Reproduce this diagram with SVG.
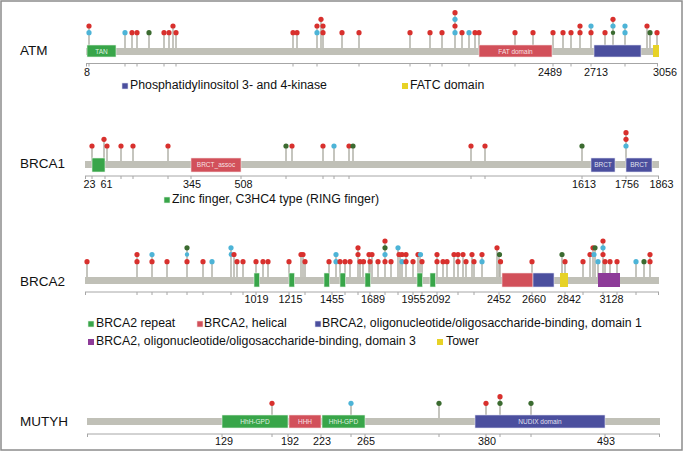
<svg xmlns="http://www.w3.org/2000/svg" width="685" height="452" viewBox="0 0 685 452">
<style>
.bg{fill:#ffffff}
.frame{fill:none;stroke:#8c8c8c;stroke-width:1.5}
.bar{fill:#c0c0b7}
.stem{fill:none;stroke:#b3b3a9;stroke-width:1.5}
.ax{fill:none;stroke:#a6a6a6;stroke-width:1}
.r{fill:#d8302d}
.c{fill:#4db4d7}
.g{fill:#3b6b30}
.dg{fill:#38a549;stroke:#e8f3e8;stroke-width:0.6}
.dr{fill:#d2505a;stroke:#f3e0e0;stroke-width:0.6}
.db{fill:#4b4f9e;stroke:#e0e0f0;stroke-width:0.6}
.dy{fill:#e7d226}
.dp{fill:#8d3b98}
.gene{font-family:"Liberation Sans",Arial,sans-serif;font-size:13.5px;fill:#111}
.num{font-family:"Liberation Sans",Arial,sans-serif;font-size:10.8px;fill:#111;text-anchor:middle}
.leg{font-family:"Liberation Sans",Arial,sans-serif;font-size:12.3px;fill:#111}
.dl{font-family:"Liberation Sans",Arial,sans-serif;font-size:6.5px;fill:#ffffff;fill-opacity:0.85;text-anchor:middle}
</style>
<rect class="bg" x="0" y="0" width="685" height="452"/>
<rect class="frame" x="1" y="1" width="681" height="449"/>

<g id="atm">
<text class="gene" x="20" y="55">ATM</text>
<path class="stem" d="M89 48V26 M125 48V32.7 M132 48V32.7 M137 48V32.7 M149 48V32.7 M164 48V32.7 M169 48V32.7 M173 48V26 M176 48V32.7 M293 48V32.7 M297 48V32.7 M317 48V26 M321 48V19.3 M323 48V26 M342 48V32.7 M359 48V32.7 M410 48V32.7 M430 48V32.7 M442 48V32.7 M455 48V12.7 M462 48V32.7 M469 48V32.7 M475 48V32.7 M479 48V32.7 M515 48V32.7 M533 48V32.7 M553 48V32.7 M563 48V32.7 M571 48V32.7 M580 48V26 M591 48V26 M605 48V32.7 M613 48V19.3 M625 48V26 M647 48V26 M650 48V32.7 M657 48V32.7"/>
<rect class="bar" x="86" y="48" width="572" height="7"/>
<rect class="dg" x="87" y="45" width="29" height="12"/>
<text class="dl" x="101.5" y="53.5">TAN</text>
<rect class="dr" x="479" y="45" width="73" height="12"/>
<text class="dl" x="515.5" y="53.5">FAT domain</text>
<rect class="db" x="594" y="45" width="47" height="12"/>
<rect class="dy" x="653" y="45" width="6" height="12"/>
<g>
<circle class="c" cx="89" cy="32.7" r="2.6"/><circle class="r" cx="89" cy="26" r="2.6"/>
<circle class="c" cx="125" cy="32.7" r="2.6"/>
<circle class="r" cx="132" cy="32.7" r="2.6"/>
<circle class="r" cx="137" cy="32.7" r="2.6"/>
<circle class="g" cx="149" cy="32.7" r="2.6"/>
<circle class="r" cx="164" cy="32.7" r="2.6"/>
<circle class="r" cx="169" cy="32.7" r="2.6"/>
<circle class="r" cx="173" cy="26" r="2.6"/>
<circle class="r" cx="176" cy="32.7" r="2.6"/>
<circle class="r" cx="293" cy="32.7" r="2.6"/>
<circle class="r" cx="297" cy="32.7" r="2.6"/>
<circle class="c" cx="317" cy="32.7" r="2.6"/><circle class="r" cx="317" cy="26" r="2.6"/>
<circle class="r" cx="321" cy="19.3" r="2.6"/>
<circle class="r" cx="323" cy="32.7" r="2.6"/><circle class="r" cx="323" cy="26" r="2.6"/>
<circle class="r" cx="342" cy="32.7" r="2.6"/>
<circle class="r" cx="359" cy="32.7" r="2.6"/>
<circle class="r" cx="410" cy="32.7" r="2.6"/>
<circle class="r" cx="430" cy="32.7" r="2.6"/>
<circle class="r" cx="442" cy="32.7" r="2.6"/>
<circle class="c" cx="455" cy="32.7" r="2.6"/><circle class="r" cx="455" cy="26" r="2.6"/><circle class="c" cx="455" cy="19.3" r="2.6"/><circle class="r" cx="455" cy="12.7" r="2.6"/>
<circle class="r" cx="462" cy="32.7" r="2.6"/>
<circle class="c" cx="469" cy="32.7" r="2.6"/>
<circle class="r" cx="475" cy="32.7" r="2.6"/>
<circle class="r" cx="479" cy="32.7" r="2.6"/>
<circle class="r" cx="515" cy="32.7" r="2.6"/>
<circle class="r" cx="533" cy="32.7" r="2.6"/>
<circle class="r" cx="553" cy="32.7" r="2.6"/>
<circle class="r" cx="563" cy="32.7" r="2.6"/>
<circle class="r" cx="571" cy="32.7" r="2.6"/>
<circle class="r" cx="580" cy="32.7" r="2.6"/><circle class="r" cx="580" cy="26" r="2.6"/>
<circle class="r" cx="591" cy="32.7" r="2.6"/><circle class="c" cx="591" cy="26" r="2.6"/>
<circle class="r" cx="605" cy="32.7" r="2.6"/>
<circle class="g" cx="613" cy="32.7" r="2.2"/><circle class="c" cx="613" cy="26" r="2.6"/><circle class="r" cx="613" cy="19.3" r="2.6"/>
<circle class="c" cx="625" cy="32.7" r="2.6"/><circle class="c" cx="625" cy="26" r="2.6"/>
<circle class="r" cx="647" cy="26" r="2.6"/>
<circle class="g" cx="650" cy="32.7" r="2.6"/>
<circle class="r" cx="657" cy="32.7" r="2.6"/>
</g>
<path class="ax" d="M86 63.5H658 M86.5 63.5V66.5 M89 63.5V66.5 M125 63.5V66.5 M137 63.5V66.5 M164 63.5V66.5 M176 63.5V66.5 M293 63.5V66.5 M317 63.5V66.5 M359 63.5V66.5 M410 63.5V66.5 M430 63.5V66.5 M442 63.5V66.5 M469 63.5V66.5 M515 63.5V66.5 M553 63.5V66.5 M571 63.5V66.5 M591 63.5V66.5 M625 63.5V66.5 M657.5 63.5V66.5"/>
<text class="num" x="87" y="76">8</text>
<text class="num" x="550" y="76">2489</text>
<text class="num" x="596" y="76">2713</text>
<text class="num" x="665" y="76">3056</text>
<rect class="db" x="122" y="83" width="6" height="6"/>
<text class="leg" x="130" y="89">Phosphatidylinositol 3- and 4-kinase</text>
<rect class="dy" x="402" y="83" width="6" height="6"/>
<text class="leg" x="410" y="89">FATC domain</text>
</g>

<g id="brca1">
<text class="gene" x="20" y="168">BRCA1</text>
<path class="stem" d="M92 161V146 M104 161V139.3 M107 161V146 M121 161V146 M133 161V146 M168 161V146 M286 161V146 M292 161V146 M323 161V146 M334 161V146 M349 161V146 M353 161V146 M471 161V146 M485 161V146 M582 161V146 M626 161V132.7"/>
<rect class="bar" x="85" y="161" width="574" height="7"/>
<rect class="dg" x="92" y="158" width="13" height="14"/>
<rect class="dr" x="191" y="158" width="50" height="14"/>
<text class="dl" x="216" y="167">BRCT_assoc</text>
<rect class="db" x="591" y="158" width="24" height="14"/>
<text class="dl" x="603" y="167">BRCT</text>
<rect class="db" x="626" y="158" width="26" height="14"/>
<text class="dl" x="639" y="167">BRCT</text>
<g>
<circle class="r" cx="92" cy="146" r="2.6"/>
<circle class="r" cx="104" cy="139.3" r="2.6"/>
<circle class="r" cx="107" cy="146" r="2.6"/>
<circle class="r" cx="121" cy="146" r="2.6"/>
<circle class="r" cx="133" cy="146" r="2.6"/>
<circle class="r" cx="168" cy="146" r="2.6"/>
<circle class="g" cx="286" cy="146" r="2.6"/>
<circle class="r" cx="292" cy="146" r="2.6"/>
<circle class="r" cx="323" cy="146" r="2.6"/>
<circle class="c" cx="334" cy="146" r="2.6"/>
<circle class="r" cx="349" cy="146" r="2.6"/>
<circle class="g" cx="353" cy="146" r="2.6"/>
<circle class="r" cx="471" cy="146" r="2.6"/>
<circle class="r" cx="485" cy="146" r="2.6"/>
<circle class="g" cx="582" cy="146" r="2.6"/>
<circle class="c" cx="626" cy="146" r="2.6"/><circle class="r" cx="626" cy="139.3" r="2.6"/><circle class="r" cx="626" cy="132.7" r="2.6"/>
</g>
<path class="ax" d="M85 176H659 M85.5 176V179 M92 176V179 M105 176V179 M121 176V179 M133 176V179 M168 176V179 M191 176V179 M241 176V179 M286 176V179 M323 176V179 M334 176V179 M349 176V179 M471 176V179 M485 176V179 M582 176V179 M626 176V179 M658.5 176V179"/>
<text class="num" x="89.5" y="188">23</text>
<text class="num" x="106.5" y="188">61</text>
<text class="num" x="192" y="188">345</text>
<text class="num" x="243.5" y="188">508</text>
<text class="num" x="584" y="188">1613</text>
<text class="num" x="627" y="188">1756</text>
<text class="num" x="661.5" y="188">1863</text>
<rect class="dg" x="164" y="197" width="6" height="6"/>
<text class="leg" x="172" y="203">Zinc finger, C3HC4 type (RING finger)</text>
</g>

<g id="brca2">
<text class="gene" x="20" y="286">BRCA2</text>
<path class="stem" d="M87 277V261.7 M137 277V254.5 M152 277V254.5 M167 277V261.7 M187 277V247.8 M203 277V261.7 M212 277V261.7 M231 277V247.8 M234 277V254.5 M237 277V261.7 M243 277V261.7 M256 277V261.7 M263 277V261.7 M268 277V261.7 M289 277V261.7 M301 277V254.5 M303 277V254.5 M305 277V261.7 M329 277V261.7 M336 277V254.5 M340 277V261.7 M345 277V261.7 M350 277V261.7 M358 277V247.8 M360 277V261.7 M363 277V261.7 M369 277V254.5 M370 277V261.7 M372 277V254.5 M378 277V261.7 M385 277V241 M391 277V261.7 M398 277V247.8 M400 277V254.5 M402 277V261.7 M406 277V254.5 M413 277V261.7 M418 277V254.5 M420 277V254.5 M422 277V261.7 M437 277V254.5 M443 277V261.7 M447 277V261.7 M454 277V254.5 M458 277V254.5 M463 277V254.5 M466 277V261.7 M472 277V254.5 M474 277V261.7 M482 277V254.5 M497 277V247.8 M499 277V254.5 M500 277V261.7 M532 277V261.7 M562 277V254.5 M565 277V261.7 M583 277V261.7 M590 277V254.5 M593 277V247.8 M595 277V247.8 M598 277V261.7 M603 277V241 M605 277V261.7 M610 277V261.7 M617 277V261.7 M636 277V261.7 M644 277V261.7 M650 277V254.5"/>
<rect class="bar" x="85" y="277" width="574" height="7"/>
<rect class="dg" x="254" y="273" width="5.5" height="14"/>
<rect class="dg" x="289" y="273" width="5.5" height="14"/>
<rect class="dg" x="324" y="273" width="5.5" height="14"/>
<rect class="dg" x="340" y="273" width="5.5" height="14"/>
<rect class="dg" x="365" y="273" width="5.5" height="14"/>
<rect class="dg" x="417" y="273" width="5.5" height="14"/>
<rect class="dg" x="430" y="273" width="5.5" height="14"/>
<rect class="dr" x="502" y="273" width="31" height="14"/>
<rect class="db" x="533" y="273" width="21" height="14"/>
<rect class="dy" x="560" y="273" width="8" height="14"/>
<rect class="dp" x="598" y="273" width="22" height="14"/>
<g>
<circle class="r" cx="87" cy="261.7" r="2.6"/>
<circle class="r" cx="137" cy="261.7" r="2.6"/><circle class="r" cx="137" cy="254.5" r="2.6"/>
<circle class="r" cx="152" cy="261.7" r="2.6"/><circle class="c" cx="152" cy="254.5" r="2.6"/>
<circle class="r" cx="167" cy="261.7" r="2.6"/>
<circle class="r" cx="187" cy="261.7" r="2.6"/><circle class="c" cx="187" cy="254.5" r="2.2"/><circle class="g" cx="187" cy="247.8" r="2.6"/>
<circle class="r" cx="203" cy="261.7" r="2.6"/>
<circle class="c" cx="212" cy="261.7" r="2.6"/>
<circle class="c" cx="231" cy="254.5" r="2.4"/><circle class="c" cx="231" cy="247.8" r="2.6"/>
<circle class="r" cx="234" cy="254.5" r="2.6"/>
<circle class="r" cx="237" cy="261.7" r="2.6"/>
<circle class="r" cx="243" cy="261.7" r="2.6"/>
<circle class="r" cx="256" cy="261.7" r="2.6"/>
<circle class="r" cx="263" cy="261.7" r="2.6"/>
<circle class="r" cx="268" cy="261.7" r="2.6"/>
<circle class="r" cx="289" cy="261.7" r="2.6"/>
<circle class="r" cx="301" cy="254.5" r="2.6"/><circle class="r" cx="303" cy="254.5" r="2.6"/>
<circle class="r" cx="305" cy="261.7" r="2.6"/>
<circle class="r" cx="329" cy="261.7" r="2.6"/>
<circle class="c" cx="336" cy="261.7" r="2.6"/><circle class="c" cx="336" cy="254.5" r="2.6"/>
<circle class="r" cx="340" cy="261.7" r="2.6"/>
<circle class="r" cx="345" cy="261.7" r="2.6"/>
<circle class="r" cx="350" cy="261.7" r="2.6"/>
<circle class="r" cx="358" cy="254.5" r="2.6"/><circle class="r" cx="358" cy="247.8" r="2.6"/>
<circle class="r" cx="360" cy="261.7" r="2.6"/>
<circle class="r" cx="363.5" cy="261.7" r="2.6"/>
<circle class="r" cx="369" cy="254.5" r="2.6"/><circle class="r" cx="372" cy="254.5" r="2.6"/>
<circle class="r" cx="370" cy="261.7" r="2.6"/>
<circle class="r" cx="378" cy="261.7" r="2.6"/>
<circle class="r" cx="385" cy="261.7" r="2.6"/><circle class="c" cx="385" cy="254.5" r="2.6"/><circle class="g" cx="385" cy="247.8" r="2.6"/><circle class="r" cx="385" cy="241" r="2.6"/>
<circle class="r" cx="391" cy="261.7" r="2.6"/>
<circle class="c" cx="398" cy="247.8" r="2.6"/>
<circle class="r" cx="399" cy="254.5" r="2.6"/>
<circle class="r" cx="402" cy="254.5" r="2.6"/>
<circle class="c" cx="402" cy="261.7" r="2.6"/>
<circle class="r" cx="406" cy="261.7" r="2.6"/><circle class="r" cx="406" cy="254.5" r="2.6"/>
<circle class="r" cx="413" cy="261.7" r="2.6"/>
<circle class="r" cx="418" cy="254.5" r="2.6"/><circle class="c" cx="420.5" cy="254.5" r="2.6"/>
<circle class="r" cx="422" cy="261.7" r="2.6"/>
<circle class="r" cx="437" cy="261.7" r="2.6"/><circle class="r" cx="437" cy="254.5" r="2.6"/>
<circle class="r" cx="443" cy="261.7" r="2.6"/>
<circle class="r" cx="447" cy="261.7" r="2.6"/>
<circle class="r" cx="454" cy="254.5" r="2.6"/>
<circle class="r" cx="458" cy="254.5" r="2.6"/><circle class="r" cx="458" cy="261.7" r="2.6"/>
<circle class="r" cx="463" cy="254.5" r="2.6"/>
<circle class="r" cx="466" cy="261.7" r="2.6"/>
<circle class="r" cx="472" cy="254.5" r="2.6"/>
<circle class="r" cx="474" cy="261.7" r="2.6"/>
<circle class="c" cx="482" cy="261.7" r="2.6"/><circle class="r" cx="482" cy="254.5" r="2.6"/>
<circle class="r" cx="497" cy="247.8" r="2.6"/>
<circle class="g" cx="499.5" cy="254.5" r="2.6"/>
<circle class="r" cx="500.5" cy="261.7" r="2.6"/>
<circle class="r" cx="532" cy="261.7" r="2.6"/>
<circle class="g" cx="562" cy="254.5" r="2.6"/>
<circle class="r" cx="565" cy="261.7" r="2.6"/>
<circle class="r" cx="583" cy="261.7" r="2.6"/>
<circle class="r" cx="590" cy="254.5" r="2.6"/>
<circle class="r" cx="593" cy="247.8" r="2.6"/><circle class="g" cx="595" cy="247.8" r="2.6"/>
<circle class="c" cx="594" cy="254.5" r="2.6"/>
<circle class="c" cx="598" cy="261.7" r="2.6"/>
<circle class="r" cx="603" cy="254.5" r="2.6"/><circle class="c" cx="603" cy="247.8" r="2.6"/><circle class="r" cx="603" cy="241" r="2.6"/>
<circle class="r" cx="605" cy="261.7" r="2.6"/>
<circle class="r" cx="610" cy="261.7" r="2.6"/>
<circle class="r" cx="617" cy="261.7" r="2.6"/>
<circle class="c" cx="636" cy="261.7" r="2.6"/>
<circle class="g" cx="644" cy="261.7" r="2.6"/>
<circle class="r" cx="650" cy="261.7" r="2.6"/><circle class="r" cx="650" cy="254.5" r="2.6"/>
</g>
<path class="ax" d="M85 292H659 M85.5 292V295 M137 292V295 M152 292V295 M167 292V295 M187 292V295 M203 292V295 M231 292V295 M243 292V295 M256 292V295 M289 292V295 M305 292V295 M332 292V295 M345 292V295 M358 292V295 M370 292V295 M385 292V295 M398 292V295 M413 292V295 M422 292V295 M437 292V295 M458 292V295 M474 292V295 M499 292V295 M532 292V295 M565 292V295 M583 292V295 M603 292V295 M617 292V295 M636 292V295 M658.5 292V295"/>
<text class="num" x="256.5" y="303">1019</text>
<text class="num" x="290.5" y="303">1215</text>
<text class="num" x="332" y="303">1455</text>
<text class="num" x="373" y="303">1689</text>
<text class="num" x="413.5" y="303">1955</text>
<text class="num" x="438.5" y="303">2092</text>
<text class="num" x="499" y="303">2452</text>
<text class="num" x="534" y="303">2660</text>
<text class="num" x="569" y="303">2842</text>
<text class="num" x="611.5" y="303">3128</text>
<rect class="dg" x="88" y="321" width="6" height="6"/>
<text class="leg" x="96" y="327">BRCA2 repeat</text>
<rect class="dr" x="197" y="321" width="6" height="6"/>
<text class="leg" x="204" y="327">BRCA2, helical</text>
<rect class="db" x="315" y="321" width="6" height="6"/>
<text class="leg" x="322" y="327">BRCA2, oligonucleotide/oligosaccharide-binding, domain 1</text>
<rect class="dp" x="88" y="339" width="6" height="6"/>
<text class="leg" x="96" y="345">BRCA2, oligonucleotide/oligosaccharide-binding, domain 3</text>
<rect class="dy" x="437" y="339" width="6" height="6"/>
<text class="leg" x="446" y="345">Tower</text>
</g>

<g id="mutyh">
<text class="gene" x="20" y="426">MUTYH</text>
<path class="stem" d="M272 418V403.3 M351 418V403.3 M439 418V403.3 M486 418V403.3 M500 418V396.7 M531 418V403.3"/>
<rect class="bar" x="87" y="418" width="573" height="7"/>
<rect class="dg" x="222" y="415" width="66" height="13"/>
<text class="dl" x="255" y="424">HhH-GPD</text>
<rect class="dr" x="289" y="415" width="32" height="13"/>
<text class="dl" x="305" y="424">HHH</text>
<rect class="dg" x="322" y="415" width="43" height="13"/>
<text class="dl" x="343.5" y="424">HhH-GPD</text>
<rect class="db" x="475" y="415" width="130" height="13"/>
<text class="dl" x="540" y="424">NUDIX domain</text>
<g>
<circle class="r" cx="272" cy="403.3" r="2.6"/>
<circle class="c" cx="351" cy="403.3" r="2.6"/>
<circle class="g" cx="439" cy="403.3" r="2.6"/>
<circle class="r" cx="486" cy="403.3" r="2.6"/>
<circle class="g" cx="500" cy="403.3" r="2.6"/><circle class="r" cx="500" cy="396.7" r="2.6"/>
<circle class="g" cx="531" cy="403.3" r="2.6"/>
</g>
<path class="ax" d="M87 434H660 M87.5 434V437 M222 434V437 M272 434V437 M288 434V437 M321 434V437 M351 434V437 M365 434V437 M439 434V437 M486 434V437 M500 434V437 M531 434V437 M605 434V437 M659.5 434V437"/>
<text class="num" x="224" y="445">129</text>
<text class="num" x="290" y="445">192</text>
<text class="num" x="322" y="445">223</text>
<text class="num" x="366" y="445">265</text>
<text class="num" x="487" y="445">380</text>
<text class="num" x="606" y="445">493</text>
</g>
</svg>
